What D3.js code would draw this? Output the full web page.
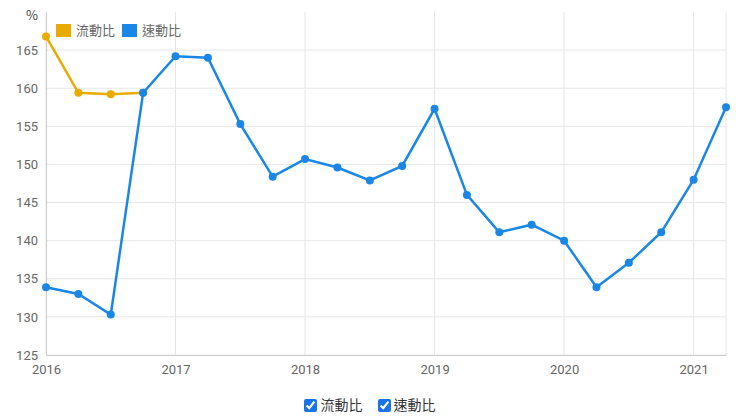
<!DOCTYPE html>
<html lang="zh-Hant">
<head>
<meta charset="UTF-8">
<script src="https://d3js.org/d3.v7.min.js"></script>
<style>
  body { margin: 0; font-family: "Noto Sans CJK TC", Roboto, sans-serif; background: #fff; }
  .checks { position: absolute; top: 394px; left: 0; width: 740px; text-align: center; font-size: 14px; color: #333; }
  .checks label { margin: 0 6px; }
  .checks input { margin: 0 3px 0 0; vertical-align: -2px; accent-color: #1a73e8; }
</style>
</head>
<body>
<svg id="chart" width="740" height="392"></svg>
<div class="checks">
  <label><input type="checkbox" checked>流動比</label>
  <label><input type="checkbox" checked>速動比</label>
</div>
<script>
const quarters = [2016, 2016.25, 2016.5, 2016.75, 2017, 2017.25, 2017.5, 2017.75,
  2018, 2018.25, 2018.5, 2018.75, 2019, 2019.25, 2019.5, 2019.75,
  2020, 2020.25, 2020.5, 2020.75, 2021, 2021.25];
const currentRatio = [166.8, 159.4, 159.2, 159.4];
const quickRatio = [133.9, 133.0, 130.3, 159.4, 164.2, 164.0, 155.3, 148.4,
  150.7, 149.6, 147.9, 149.8, 157.3, 146.0, 141.1, 142.1,
  140.0, 133.9, 137.1, 141.1, 148.0, 157.5];
const yTicks = [125, 130, 135, 140, 145, 150, 155, 160, 165];
const xTicks = [2016, 2017, 2018, 2019, 2020, 2021];
const seriesNames = ["流動比", "速動比"];
const colors = ["#e8ac00", "#1a87e6"];

const svg = d3.select("#chart");
const x = d3.scaleLinear().domain([2016, 2021.25]).range([46, 726]);
const y = d3.scaleLinear().domain([125, 170]).range([355, 12]);

const grid = svg.append("g").attr("stroke", "#e6e6e6");
grid.selectAll(".h").data(yTicks).join("line")
  .attr("x1", 46).attr("x2", 726).attr("y1", d => y(d)).attr("y2", d => y(d));
grid.selectAll(".v").data(xTicks).join("line")
  .attr("y1", 12).attr("y2", 355).attr("x1", d => x(d)).attr("x2", d => x(d));
grid.append("line").attr("x1", 726).attr("x2", 726).attr("y1", 12).attr("y2", 355);

const yAxis = svg.append("g").attr("transform", "translate(46,0)")
  .call(d3.axisLeft(y).tickValues(yTicks).tickSize(0).tickPadding(8));
const xAxis = svg.append("g").attr("transform", "translate(0,355)")
  .call(d3.axisBottom(x).tickValues(xTicks).tickFormat(d3.format("d")).tickSize(0).tickPadding(10));
[yAxis, xAxis].forEach(a => {
  a.select(".domain").attr("stroke", "#ccc");
  a.selectAll("text").attr("fill", "#666").style("font-size", "13px").style("font-family", "Roboto, sans-serif");
});
svg.append("text").attr("x", 26).attr("y", 20).attr("fill", "#444")
  .style("font-size", "13px").text("%");

const line = d3.line().x(d => x(d[0])).y(d => y(d[1]));
[currentRatio, quickRatio].forEach((vals, i) => {
  const pts = vals.map((v, j) => [quarters[j], v]);
  svg.append("path").datum(pts).attr("d", line).attr("fill", "none")
    .attr("stroke", colors[i]).attr("stroke-width", 2.5);
  svg.append("g").selectAll("circle").data(pts).join("circle")
    .attr("cx", d => x(d[0])).attr("cy", d => y(d[1])).attr("r", 4).attr("fill", colors[i]);
});

const legend = svg.append("g").selectAll("g").data(seriesNames).join("g")
  .attr("transform", (d, i) => `translate(${56 + i * 66},24)`);
legend.append("rect").attr("width", 15).attr("height", 13).attr("fill", (d, i) => colors[i]);
legend.append("text").attr("x", 20).attr("y", 11).attr("fill", "#666")
  .style("font-size", "13px").text(d => d);
</script>
</body>
</html>
